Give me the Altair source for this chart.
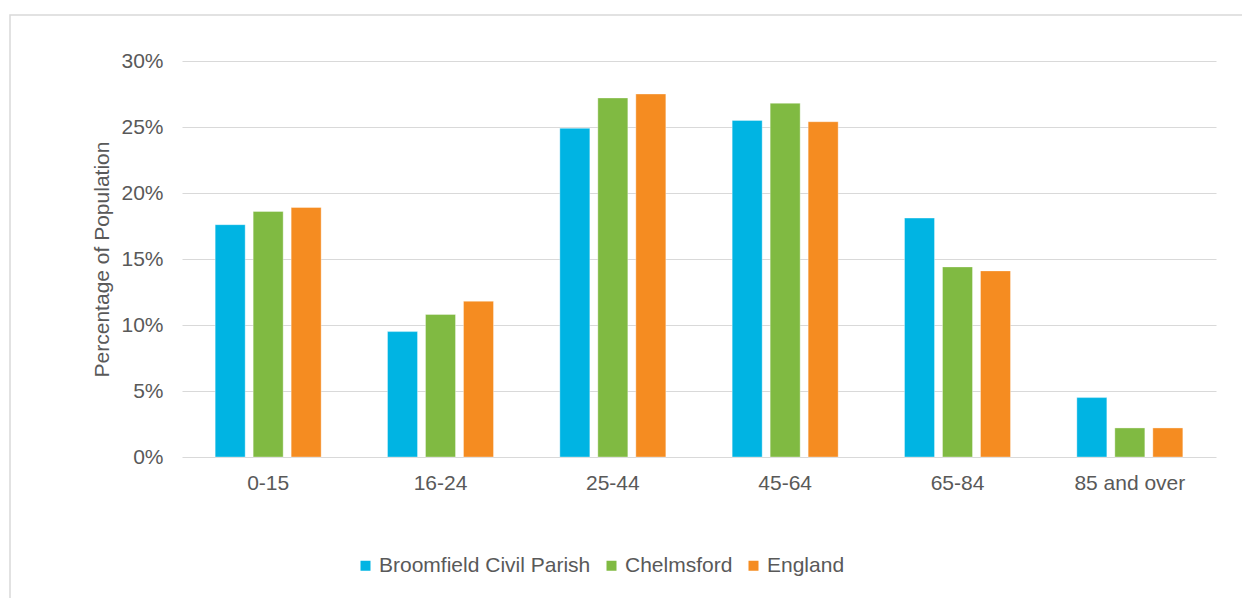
import altair as alt
import pandas as pd

categories = ["0-15", "16-24", "25-44", "45-64", "65-84", "85 and over"]
series = ["Broomfield Civil Parish", "Chelmsford", "England"]
broomfield = [17.6, 9.5, 24.9, 25.5, 18.1, 4.5]
chelmsford = [18.6, 10.8, 27.2, 26.8, 14.4, 2.2]
england = [18.9, 11.8, 27.5, 25.4, 14.1, 2.2]
colors = ["#00B4E3", "#80BA42", "#F58C21"]

rows = []
for s, vals in zip(series, [broomfield, chelmsford, england]):
    for c, v in zip(categories, vals):
        rows.append({"Age": c, "Area": s, "Value": v / 100.0})
df = pd.DataFrame(rows)

FONT = "Liberation Sans"
GREY = "#595959"
FS = 21

bars = alt.Chart(df).mark_bar(stroke="#ffffff", strokeOpacity=0.35, strokeWidth=1).encode(
    x=alt.X("Age:N", sort=categories, title=None,
            scale=alt.Scale(paddingInner=0.385, paddingOuter=0.1925),
            axis=alt.Axis(labelAngle=0, labelFontSize=FS, labelColor=GREY, labelFont=FONT,
                          labelPadding=15, ticks=False, domain=False, grid=False)),
    xOffset=alt.XOffset("Area:N", sort=series,
                        scale=alt.Scale(paddingInner=0.2105, paddingOuter=0)),
    y=alt.Y("Value:Q", title="Percentage of Population",
            scale=alt.Scale(domain=[0, 0.30], nice=False),
            axis=alt.Axis(format=".0%", values=[0, 0.05, 0.10, 0.15, 0.20, 0.25, 0.30],
                          labelFontSize=FS, labelColor=GREY, labelFont=FONT, labelPadding=19,
                          ticks=False, domain=False, grid=True, gridColor="#D9D9D9", gridWidth=1.2,
                          titleFontSize=FS, titleFont=FONT, titleColor=GREY, titleFontWeight="normal",
                          titleX=-80, titleY=198, titleAngle=-90, titleAlign="center",
                          titleBaseline="middle")),
    color=alt.Color("Area:N", sort=series,
                    scale=alt.Scale(domain=series, range=colors),
                    legend=alt.Legend(orient="none", legendX=173, legendY=494, direction="horizontal",
                                      title=None, symbolType="square", symbolSize=100,
                                      symbolStrokeWidth=0, labelFontSize=FS, labelFont=FONT,
                                      labelColor=GREY, columnPadding=10, labelOffset=3,
                                      labelLimit=500)),
)

border = alt.Chart(pd.DataFrame({"a": [0]})).mark_rect(
    fill=None, stroke="#D9D9D9", strokeWidth=1.5
).encode(x=alt.value(-172), x2=alt.value(1100), y=alt.value(-46), y2=alt.value(620))

chart = alt.layer(border, bars).properties(
    width=1034, height=396,
    background="white",
    autosize=alt.AutoSizeParams(type="none"),
    padding={"left": 174, "top": 53, "right": 26, "bottom": 141},
).configure_view(strokeWidth=0, stroke="transparent")

chart.save("out.html", embed_options={"renderer": "svg", "actions": False})
